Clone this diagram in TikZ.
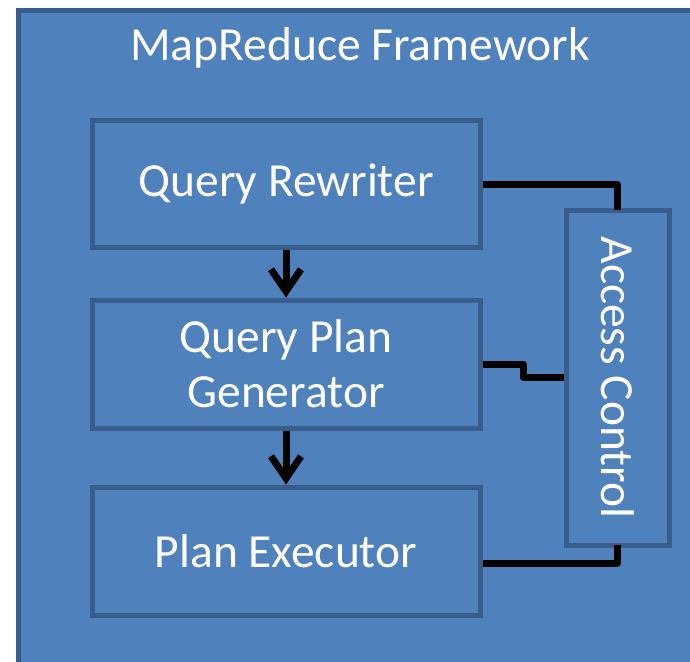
\documentclass[tikz,border=0pt]{standalone}
\usepackage{fontspec}
\setmainfont{Carlito}
\usetikzlibrary{arrows.meta}
\definecolor{fillblue}{HTML}{4F81BD}
\definecolor{edgeblue}{HTML}{385D8A}
\begin{document}
\begin{tikzpicture}[x=1pt,y=-1pt,
  box/.style={draw=edgeblue,fill=fillblue,line width=5pt,inner sep=0pt,text=white,font=\fontsize{47.5}{55}\selectfont,align=center},
  lbl/.style={text=white,font=\fontsize{47.5}{55}\selectfont,inner sep=0pt},
  conn/.style={line width=7pt,line cap=butt,line join=round,draw=black},
  flow/.style={line width=7pt,-{Straight Barb[length=22pt,width=30pt,line width=7pt]}}]
\useasboundingbox (0,0) rectangle (690,661);
\begin{scope}
\clip (0,0) rectangle (690,661);
\node[box,minimum width=690pt,minimum height=670pt,anchor=north west] (frame) at (16,8) {};
\end{scope}
\node[lbl] (title) at (360,48) {MapReduce Framework};
\node[box,minimum width=388pt,minimum height=127pt] (qr) at (286,183.5) {Query Rewriter};
\node[box,minimum width=388pt,minimum height=128pt] (qpg) at (286,364) {Query Plan\\Generator};
\node[box,minimum width=388pt,minimum height=128pt] (pe) at (286,551) {Plan Executor};
\node[box,minimum width=103pt,minimum height=335pt] (ac) at (617.5,377.5) {};
\node[lbl,rotate=-90] (aclabel) at (ac.center) {Access Control};
\draw[conn] (qr.east |- 0,184) -- (617,184) -- (617,210);
\draw[conn] (qpg.east) -- (523,364) -- (523,377) -- (ac.west |- 0,377);
\draw[conn] (pe.east |- 0,563) -- (617,563) -- (617,545);
\draw[flow] (qr.south) -- (qpg.north);
\draw[flow] (qpg.south) -- (pe.north);
\end{tikzpicture}
\end{document}
